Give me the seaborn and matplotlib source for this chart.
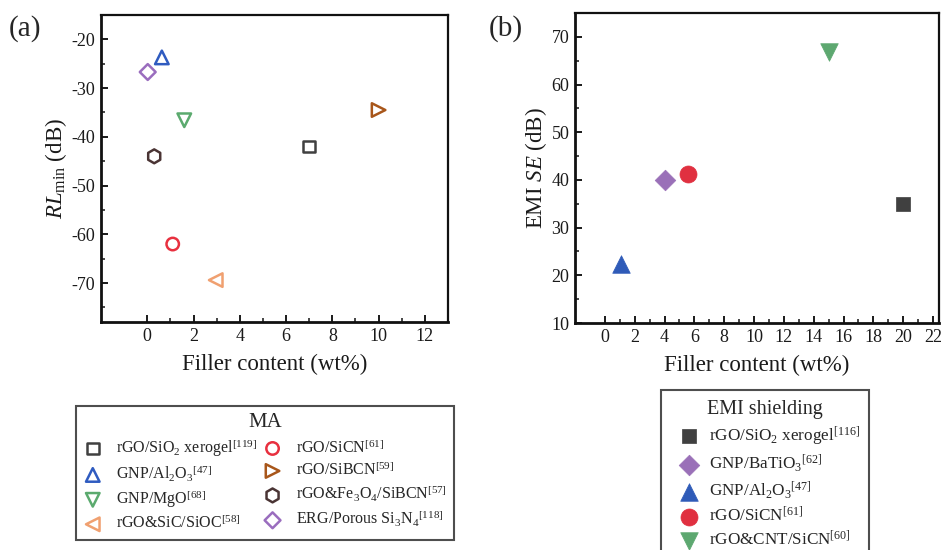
import matplotlib
matplotlib.use("Agg")
import matplotlib.pyplot as plt
import seaborn as sns
import pandas as pd

# ---------------- data ----------------
ma_labels = [r"rGO/SiO$_2$ xerogel$^{[119]}$", r"GNP/Al$_2$O$_3$$^{[47]}$", r"GNP/MgO$^{[68]}$",
             r"rGO&SiC/SiOC$^{[58]}$", r"rGO/SiCN$^{[61]}$", r"rGO/SiBCN$^{[59]}$",
             r"rGO&Fe$_3$O$_4$/SiBCN$^{[57]}$", r"ERG/Porous Si$_3$N$_4$$^{[118]}$"]
ma_x = [7.0, 0.63, 1.6, 2.96, 1.1, 10.0, 0.3, 0.02]
ma_y = [-42.0, -23.7, -36.6, -69.4, -62.0, -34.5, -44.0, -26.7]
ma_markers = ["s", "^", "v", "<", "o", ">", "h", "D"]
ma_colors = ["#404040", "#2F5BC0", "#5BAA6E", "#F0A070", "#E8303F", "#A8561A", "#4A3434", "#9A6DBE"]

emi_labels = [r"rGO/SiO$_2$ xerogel$^{[116]}$", r"GNP/BaTiO$_3$$^{[62]}$", r"GNP/Al$_2$O$_3$$^{[47]}$",
              r"rGO/SiCN$^{[61]}$", r"rGO&CNT/SiCN$^{[60]}$"]
emi_x = [20.0, 4.0, 1.1, 5.6, 15.0]
emi_y = [35.0, 40.0, 22.3, 41.3, 66.8]
emi_markers = ["s", "D", "^", "o", "v"]
emi_colors = ["#404040", "#9A70B8", "#2F5BB8", "#E03040", "#5DA870"]

# ---------------- style ----------------
sns.set_theme(style="white")
plt.rcParams["font.family"] = ["Liberation Serif", "DejaVu Serif"]
plt.rcParams["mathtext.fontset"] = "custom"
plt.rcParams["mathtext.rm"] = "Liberation Serif"
plt.rcParams["mathtext.it"] = "Liberation Serif:italic"
plt.rcParams["mathtext.bf"] = "Liberation Serif:bold"
plt.rcParams["axes.unicode_minus"] = False

fig = plt.figure(figsize=(9.5, 5.5), dpi=100)
axa = fig.add_axes([101/950, 1-322/550, 347/950, 307/550])
axb = fig.add_axes([575/950, 1-323/550, 364/950, 310/550])

ma_sizes = {"s": 70, "^": 95, "v": 95, "<": 95, "o": 80, ">": 95, "h": 100, "D": 65}
for lbl, x, y, m, c in zip(ma_labels, ma_x, ma_y, ma_markers, ma_colors):
    df = pd.DataFrame({"x": [x], "y": [y]})
    sns.scatterplot(data=df, x="x", y="y", marker=m, s=ma_sizes[m], facecolor="none",
                    edgecolor=c, linewidth=1.8, ax=axa, legend=False, label=lbl, zorder=3)

emi_sizes = {"s": 110, "D": 110, "^": 160, "o": 150, "v": 160}
for lbl, x, y, m, c in zip(emi_labels, emi_x, emi_y, emi_markers, emi_colors):
    df = pd.DataFrame({"x": [x], "y": [y]})
    sns.scatterplot(data=df, x="x", y="y", marker=m, s=emi_sizes[m], color=c,
                    edgecolor=c, linewidth=0.5, ax=axb, legend=False, label=lbl, zorder=3)

# axes formatting
axa.set_xlim(-2, 13)
axa.set_ylim(-78, -15)
axa.set_xticks(range(0, 13, 2))
axa.set_xticks(range(1, 12, 2), minor=True)
axa.set_yticks(range(-70, -19, 10))
axa.set_yticks(range(-75, -24, 10), minor=True)

axb.set_xlim(-2, 22.4)
axb.set_ylim(10, 75)
axb.set_xticks(range(0, 23, 2))
axb.set_xticks(range(1, 22, 2), minor=True)
axb.set_yticks(range(10, 71, 10))
axb.set_yticks(range(15, 66, 10), minor=True)

for ax in (axa, axb):
    ax.tick_params(which="major", direction="in", length=5, width=1.4, labelsize=13,
                   pad=4, colors="#1a1a1a", left=True, bottom=True)
    ax.tick_params(which="minor", direction="in", length=3, width=1.2, left=True, bottom=True)
    for side in ("left", "bottom"):
        ax.spines[side].set_linewidth(2.0)
        ax.spines[side].set_color("#111111")
    for side in ("top", "right"):
        ax.spines[side].set_linewidth(1.6)
        ax.spines[side].set_color("#111111")
    ax.set_xlabel("Filler content (wt%)", fontsize=16.5, labelpad=7, color="#1a1a1a")
    ax.grid(False)

axa.set_ylabel(r"$\mathit{RL}_{\mathrm{min}}$ (dB)", fontsize=16.5, labelpad=2, color="#1a1a1a")
axb.set_ylabel(r"EMI $\mathit{SE}$ (dB)", fontsize=16.5, labelpad=2, color="#1a1a1a")

fig.text(9/950, 1-29/550, "(a)", fontsize=21, va="center", ha="left")
fig.text(489/950, 1-29/550, "(b)", fontsize=21, va="center", ha="left")

# legends
ha, la = axa.get_legend_handles_labels()
lega = fig.legend(ha, la, title="MA", ncol=2, loc="upper left",
                  bbox_to_anchor=(76/950, 1-406/550), borderaxespad=0,
                  fontsize=11.5, title_fontsize=15, frameon=True, fancybox=False,
                  edgecolor="#222222", labelspacing=0.28, handletextpad=0.85,
                  columnspacing=0.35, borderpad=0.45, handlelength=1.2)
lega.get_frame().set_linewidth(1.5)

hb, lb = axb.get_legend_handles_labels()
legb = fig.legend(hb, lb, title="EMI shielding", ncol=1, loc="upper left",
                  bbox_to_anchor=(661/950, 1-390/550, 208/950, 0.0), mode="expand",
                  borderaxespad=0,
                  fontsize=12.3, title_fontsize=14.5, frameon=True, fancybox=False,
                  edgecolor="#222222", labelspacing=0.3, handletextpad=0.1,
                  borderpad=0.6, handlelength=2.1)
legb.get_frame().set_linewidth(1.5)

fig.savefig("out.png", dpi=100)
